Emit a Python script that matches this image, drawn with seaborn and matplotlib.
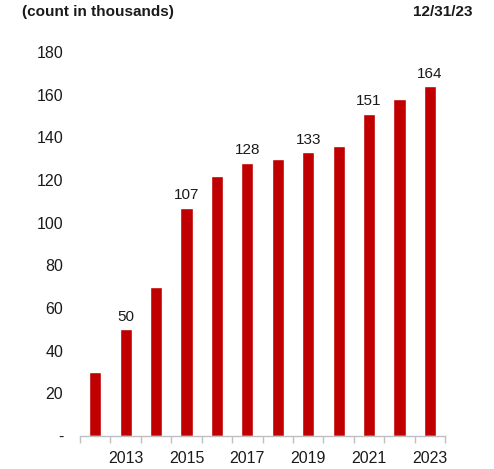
import numpy as np
import pandas as pd
import matplotlib
matplotlib.use('Agg')
import matplotlib.pyplot as plt
import seaborn as sns

years = [2012, 2013, 2014, 2015, 2016, 2017, 2018, 2019, 2020, 2021, 2022, 2023]
counts = [30, 50, 70, 107, 122, 128, 130, 133, 136, 151, 158, 164]
labelled_years = [2013, 2015, 2017, 2019, 2021, 2023]
y_ticks = [0, 20, 40, 60, 80, 100, 120, 140, 160, 180]
y_tick_labels = ['-', '20', '40', '60', '80', '100', '120', '140', '160', '180']

sns.set_style('white')
plt.rcParams['font.family'] = ['Liberation Sans', 'DejaVu Sans']

df = pd.DataFrame({'year': [str(y) for y in years], 'count': counts})

fig = plt.figure(figsize=(4.94, 4.69), dpi=100)
ax = fig.add_axes([0.162, 0.0704, 0.739, 0.8186])

sns.barplot(data=df, x='year', y='count', color='#C00000', width=0.4,
            saturation=1, ax=ax)

# value labels on odd years only
for i, (y, c) in enumerate(zip(years, counts)):
    if y in labelled_years:
        ax.annotate(str(c), (i, c), xytext=(0, 4), textcoords='offset points',
                    ha='center', va='bottom', fontsize=11, color='#1a1a1a')

ax.set_ylim(0, 180)
ax.set_xlim(-0.5, len(years) - 0.5)
ax.set_yticks(y_ticks)
ax.set_yticklabels(y_tick_labels, fontsize=11.5, color='#1a1a1a')
ax.set_xticks(range(len(years)))
ax.set_xticklabels([str(y) if y in labelled_years else '' for y in years],
                   fontsize=11.5, color='#1a1a1a')
ax.set_xticks(np.arange(-0.5, len(years)), minor=True)
ax.tick_params(axis='x', which='major', length=0, pad=11)
ax.tick_params(axis='x', which='minor', length=5, color='#bfbfbf', width=1,
               direction='out', bottom=True)
ax.tick_params(axis='y', length=0, pad=12)
for lab in ax.get_yticklabels():
    lab.set_horizontalalignment('right')
ax.set_xlabel('')
ax.set_ylabel('')

for s in ['top', 'right', 'left']:
    ax.spines[s].set_visible(False)
ax.spines['bottom'].set_color('#bfbfbf')
ax.spines['bottom'].set_linewidth(1)

fig.text(22 / 494, 1 - 12 / 469, '(count in thousands)', fontsize=11,
         fontweight='bold', ha='left', va='center', color='#1a1a1a')
fig.text(472 / 494, 1 - 12 / 469, '12/31/23', fontsize=11,
         fontweight='bold', ha='right', va='center', color='#1a1a1a')

fig.savefig('out.png', dpi=100)
